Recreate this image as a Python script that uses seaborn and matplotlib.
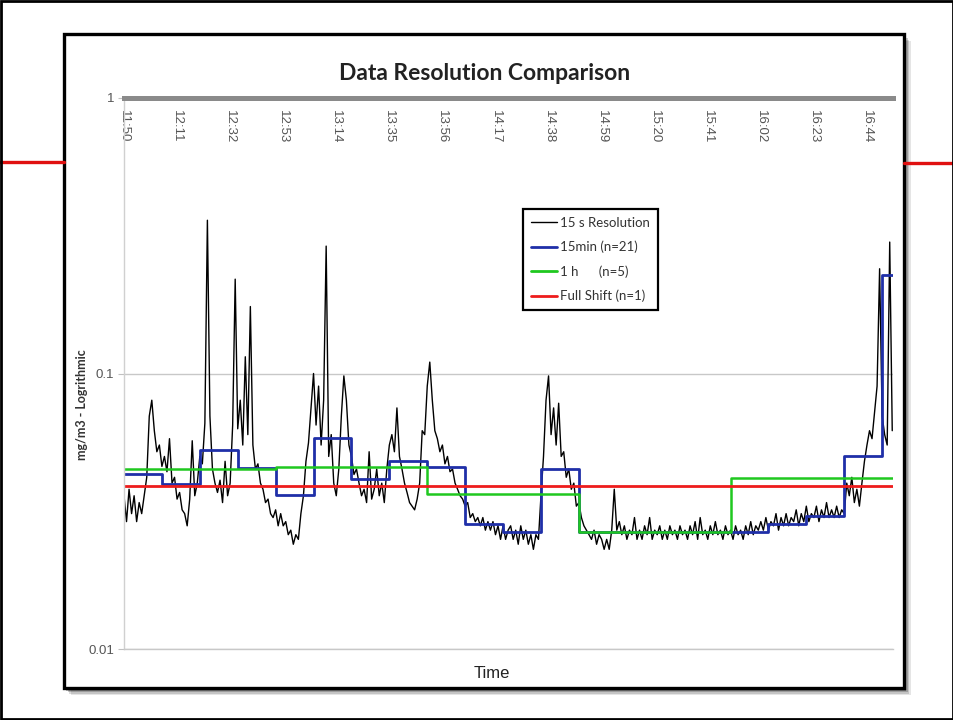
import numpy as np
import pandas as pd
import matplotlib
matplotlib.use("Agg")
import matplotlib.pyplot as plt
import seaborn as sns
from matplotlib.patches import Rectangle
from matplotlib.lines import Line2D
from matplotlib.ticker import NullLocator, FixedLocator

# ---------------- data (mg/m3, time in minutes after 11:50) ----------------
# 15 s resolution trace at 1-minute steps
trace_values = [
    0.036, 0.029, 0.038, 0.031, 0.036, 0.029, 0.034, 0.031, 0.036, 0.042,
    0.070, 0.080, 0.062, 0.052, 0.055, 0.046, 0.050, 0.044, 0.058, 0.040,
    0.042, 0.035, 0.037, 0.032, 0.031, 0.028, 0.035, 0.057, 0.036, 0.040,
    0.050, 0.047, 0.066, 0.360, 0.070, 0.045, 0.040, 0.037, 0.041, 0.034,
    0.048, 0.036, 0.040, 0.065, 0.220, 0.063, 0.080, 0.055, 0.115, 0.060,
    0.175, 0.055, 0.045, 0.047, 0.040, 0.038, 0.034, 0.035, 0.031, 0.030,
    0.032, 0.028, 0.031, 0.028, 0.029, 0.026, 0.027, 0.024, 0.026, 0.025,
    0.031, 0.036, 0.048, 0.056, 0.075, 0.100, 0.065, 0.090, 0.055, 0.080,
    0.290, 0.050, 0.060, 0.040, 0.036, 0.045, 0.070, 0.098, 0.080, 0.055,
    0.050, 0.043, 0.045, 0.040, 0.036, 0.038, 0.034, 0.052, 0.035, 0.038,
    0.045, 0.036, 0.040, 0.034, 0.045, 0.055, 0.060, 0.052, 0.075, 0.050,
    0.045, 0.040, 0.037, 0.034, 0.033, 0.032, 0.035, 0.040, 0.062, 0.060,
    0.090, 0.110, 0.080, 0.062, 0.058, 0.052, 0.055, 0.047, 0.050, 0.044,
    0.045, 0.040, 0.038, 0.036, 0.035, 0.033, 0.034, 0.030, 0.031, 0.029,
    0.030, 0.028, 0.030, 0.027, 0.029, 0.027, 0.029, 0.026, 0.028, 0.025,
    0.028, 0.025, 0.027, 0.028, 0.025, 0.027, 0.024, 0.028, 0.025, 0.027,
    0.024, 0.026, 0.023, 0.026, 0.025, 0.036, 0.050, 0.080, 0.098, 0.060,
    0.075, 0.055, 0.078, 0.050, 0.052, 0.042, 0.045, 0.038, 0.040, 0.033,
    0.034, 0.030, 0.028, 0.027, 0.026, 0.025, 0.027, 0.024, 0.026, 0.025,
    0.023, 0.025, 0.023, 0.027, 0.038, 0.027, 0.029, 0.026, 0.028, 0.025,
    0.027, 0.026, 0.030, 0.025, 0.027, 0.025, 0.028, 0.026, 0.030, 0.025,
    0.027, 0.026, 0.028, 0.025, 0.027, 0.025, 0.028, 0.026, 0.027, 0.025,
    0.028, 0.026, 0.027, 0.025, 0.028, 0.026, 0.029, 0.025, 0.030, 0.026,
    0.027, 0.025, 0.028, 0.026, 0.029, 0.026, 0.027, 0.025, 0.028, 0.026,
    0.027, 0.025, 0.028, 0.026, 0.027, 0.025, 0.028, 0.026, 0.029, 0.026,
    0.028, 0.027, 0.029, 0.027, 0.030, 0.027, 0.029, 0.028, 0.031, 0.027,
    0.030, 0.028, 0.031, 0.028, 0.030, 0.029, 0.032, 0.028, 0.031, 0.029,
    0.033, 0.029, 0.031, 0.030, 0.033, 0.029, 0.032, 0.030, 0.034, 0.030,
    0.032, 0.030, 0.033, 0.030, 0.032, 0.031, 0.040, 0.036, 0.042, 0.034,
    0.038, 0.033, 0.040, 0.048, 0.055, 0.062, 0.058, 0.072, 0.090, 0.240,
    0.070, 0.060, 0.055, 0.300, 0.062,
]
trace_step_min = 1.0

min15_values = [0.0432, 0.0398, 0.0528, 0.0455, 0.0363, 0.0584, 0.0415,
                0.0480, 0.0457, 0.0285, 0.0265, 0.0451, 0.0265, 0.0265,
                0.0265, 0.0265, 0.0265, 0.0285, 0.0303, 0.0500, 0.227]
min15_step = 15.0

hour_values = [0.0451, 0.0459, 0.0364, 0.0265, 0.0416]
hour_step = 60.0

shift_values = [0.0389]

shift_end_min = 304.3

tick_labels = ["11:50", "12:11", "12:32", "12:53", "13:14", "13:35", "13:56",
               "14:17", "14:38", "14:59", "15:20", "15:41", "16:02", "16:23",
               "16:44"]
tick_step_min = 21

series_labels = ["15 s Resolution", "15min (n=21)", "1 h      (n=5)",
                 "Full Shift (n=1)"]


def step_frame(values, step):
    x = list(np.arange(len(values)) * step) + [shift_end_min]
    y = list(values) + [values[-1]]
    return pd.DataFrame({"t": x, "c": y})


trace_df = pd.DataFrame({"t": np.arange(len(trace_values)) * trace_step_min,
                         "c": trace_values})
m15_df = step_frame(min15_values, min15_step)
hr_df = step_frame(hour_values, hour_step)
sh_df = step_frame(shift_values, shift_end_min)

# ---------------- figure ----------------
sns.set_theme(style="white")
plt.rcParams["font.family"] = ["Lato", "DejaVu Sans"]

W, H = 954, 720
fig = plt.figure(figsize=(W / 100, H / 100), dpi=100)
fig.patch.set_facecolor("white")


def fx(px):
    return px / W


def fy(py):
    return 1 - py / H


# decorative red slide lines
fig.add_artist(Line2D([0, fx(64)], [fy(162), fy(162)], color="#e01010", lw=2.4))
fig.add_artist(Line2D([fx(904), 1], [fy(163), fy(163)], color="#e01010", lw=2.4))

# chart box shadow + frame
for i, a in enumerate([0.10, 0.14, 0.20, 0.28]):
    off = 7 - i * 1.5
    fig.add_artist(Rectangle((fx(64 + off), fy(688 + off)), fx(840), 654 / H,
                             facecolor="#000000", alpha=a, edgecolor="none",
                             zorder=0.1))
fig.add_artist(Rectangle((fx(64), fy(688)), fx(840), 654 / H,
                         facecolor="white", edgecolor="black", lw=2.4,
                         zorder=0.2))
# outer image border
fig.add_artist(Rectangle((0.0015, 0.002), 0.997, 0.996, facecolor="none",
                         edgecolor="black", lw=2.0, zorder=5))

ax = fig.add_axes([fx(124), fy(649), fx(893 - 124), (649 - 98) / H])
ax.set_facecolor("none")
ax.set_zorder(1)

sns.lineplot(data=trace_df, x="t", y="c", ax=ax, color="black", lw=1.0,
             estimator=None, label=series_labels[0])
sns.lineplot(data=m15_df, x="t", y="c", ax=ax, color="#1f2fa8", lw=2.0,
             estimator=None, drawstyle="steps-post", label=series_labels[1])
sns.lineplot(data=hr_df, x="t", y="c", ax=ax, color="#1fc81f", lw=1.8,
             estimator=None, drawstyle="steps-post", label=series_labels[2])
sns.lineplot(data=sh_df, x="t", y="c", ax=ax, color="#ee1c1c", lw=2.0,
             estimator=None, drawstyle="steps-post", label=series_labels[3])

ax.set_yscale("log")
ax.set_ylim(0.01, 1)
ax.set_xlim(0, shift_end_min)
ax.yaxis.set_major_locator(FixedLocator([0.01, 0.1, 1]))
ax.yaxis.set_minor_locator(NullLocator())
ax.set_yticklabels(["0.01", "0.1", "1"], family=["Liberation Sans"])
ax.tick_params(axis="y", left=True, length=4, width=0.8, color="#c0c0c0",
               labelsize=9.5, labelcolor="#555555", pad=3)
ax.grid(axis="y", color="#c8c8c8", lw=1.0)
ax.grid(axis="x", visible=False)

ax.xaxis.tick_top()
ax.set_xticks(np.arange(len(tick_labels)) * tick_step_min)
ax.set_xticklabels(tick_labels, rotation=-90, va="top", ha="center",
                   family=["Liberation Sans"])
ax.tick_params(axis="x", top=True, bottom=False, length=0, labelsize=9.5,
               labelcolor="#555555", pad=-8.5)
ax.set_xlabel("")

ax.spines["right"].set_visible(False)
ax.spines["top"].set_color("#8a8a8a")
ax.spines["top"].set_linewidth(3.6)
ax.spines["left"].set_color("#d0d0d0")
ax.spines["left"].set_linewidth(1.0)
ax.spines["bottom"].set_color("#c8c8c8")
ax.spines["bottom"].set_linewidth(1.0)

ax.set_ylabel("mg/m3 - Logrithmic", fontsize=9, fontweight="bold",
              color="#333333")
ax.yaxis.set_label_coords(-0.047, 0.443)

fig.text(fx(485), fy(73), "Data Resolution Comparison", ha="center",
         va="center", fontsize=16.5, fontweight="bold", color="#222222")
fig.text(fx(492), fy(673), "Time", ha="center", va="center", fontsize=12,
         color="#222222", family=["Liberation Sans"])

leg = ax.legend(loc="upper left", bbox_to_anchor=(fx(523), fy(209)),
                bbox_transform=fig.transFigure, frameon=True, fancybox=False,
                framealpha=1, edgecolor="black", fontsize=9.5,
                handlelength=2.0, handletextpad=0.2, labelspacing=0.9,
                borderpad=0.6, borderaxespad=0)
leg.get_frame().set_linewidth(1.6)
for line in leg.get_lines():
    line.set_linewidth(2.0)
leg.get_lines()[0].set_linewidth(1.0)
for t in leg.get_texts():
    t.set_color("#333333")

fig.savefig("out.png", dpi=100, facecolor="white")
